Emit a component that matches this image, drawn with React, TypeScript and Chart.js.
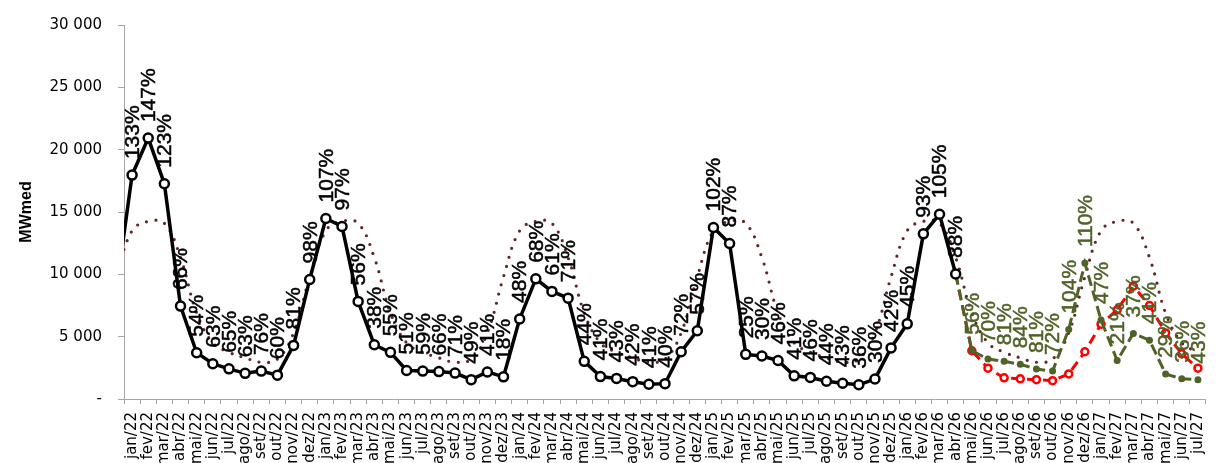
import React, { useEffect, useRef } from 'react';
import { Chart, registerables } from 'chart.js';

Chart.register(...registerables);

// Categories (dez/21 is only used so that the lines run into the left edge, it is outside the visible range)
const categories = [
  'dez/21',
  'jan/22', 'fev/22', 'mar/22', 'abr/22', 'mai/22', 'jun/22', 'jul/22', 'ago/22', 'set/22', 'out/22', 'nov/22', 'dez/22',
  'jan/23', 'fev/23', 'mar/23', 'abr/23', 'mai/23', 'jun/23', 'jul/23', 'ago/23', 'set/23', 'out/23', 'nov/23', 'dez/23',
  'jan/24', 'fev/24', 'mar/24', 'abr/24', 'mai/24', 'jun/24', 'jul/24', 'ago/24', 'set/24', 'out/24', 'nov/24', 'dez/24',
  'jan/25', 'fev/25', 'mar/25', 'abr/25', 'mai/25', 'jun/25', 'jul/25', 'ago/25', 'set/25', 'out/25', 'nov/25', 'dez/25',
  'jan/26', 'fev/26', 'mar/26', 'abr/26', 'mai/26', 'jun/26', 'jul/26', 'ago/26', 'set/26', 'out/26', 'nov/26', 'dez/26',
  'jan/27', 'fev/27', 'mar/27', 'abr/27', 'mai/27', 'jun/27', 'jul/27',
];

// Verified (actual) values, MWmed
const actual = [
  8500,
  17960, 20930, 17270, 7450, 3710, 2830, 2420, 2060, 2240, 1910, 4300, 9590,
  14480, 13840, 7830, 4350, 3740, 2290, 2240, 2200, 2080, 1550, 2170, 1780,
  6420, 9640, 8630, 8090, 3020, 1800, 1650, 1390, 1180, 1230, 3790, 5470,
  13760, 12470, 3580, 3450, 3090, 1860, 1730, 1420, 1260, 1140, 1600, 4100,
  6030, 13250, 14820, 10030, null, null, null, null, null, null, null, null,
  null, null, null, null, null, null, null,
];

// Long-term average (MLT), MWmed
const mlt = [
  9800,
  13500, 14250, 14100, 11350, 6900, 4500, 3750, 3300, 2950, 3200, 5300, 9800,
  13500, 14250, 14100, 11350, 6900, 4500, 3750, 3300, 2950, 3200, 5300, 9800,
  13500, 14250, 14100, 11350, 6900, 4500, 3750, 3300, 2950, 3200, 5300, 9800,
  13500, 14250, 14100, 11350, 6900, 4500, 3750, 3300, 2950, 3200, 5300, 9800,
  13500, 14250, 14100, 11350, 6900, 4500, 3750, 3300, 2950, 3200, 5300, 9800,
  13500, 14250, 14100, 11350, 6900, 4500, 3750,
];

// Green scenario, MWmed
const scenarioGreen = [
  null,
  null, null, null, null, null, null, null, null, null, null, null, null,
  null, null, null, null, null, null, null, null, null, null, null, null,
  null, null, null, null, null, null, null, null, null, null, null, null,
  null, null, null, null, null, null, null, null, null, null, null, null,
  null, null, null, 10030, 3870, 3200, 3020, 2780, 2400, 2240, 5570, 10900,
  6340, 3090, 5260, 4720, 2010, 1620, 1550,
];

// Red scenario, MWmed
const scenarioRed = [
  null,
  null, null, null, null, null, null, null, null, null, null, null, null,
  null, null, null, null, null, null, null, null, null, null, null, null,
  null, null, null, null, null, null, null, null, null, null, null, null,
  null, null, null, null, null, null, null, null, null, null, null, null,
  null, null, null, 10030, 3870, 2470, 1700, 1620, 1550, 1470, 2010, 3790,
  6000, 7150, 9050, 7500, 5300, 3630, 2470,
];

// Percent-of-MLT labels
const actualPctStart = 'jan/22';
const actualPct = [
  '133%', '147%', '123%', '66%', '54%', '63%', '65%', '63%', '76%', '60%', '81%', '98%',
  '107%', '97%', '56%', '38%', '55%', '51%', '59%', '66%', '71%', '49%', '41%', '18%',
  '48%', '68%', '61%', '71%', '44%', '41%', '43%', '42%', '41%', '40%', '72%', '57%',
  '102%', '87%', '25%', '30%', '46%', '41%', '46%', '44%', '43%', '36%', '30%', '42%',
  '45%', '93%', '105%', '88%',
];
const greenPctStart = 'mai/26';
const greenPct = [
  '56%', '70%', '81%', '84%', '81%', '72%', '104%', '110%',
  '47%', '21%', '37%', '41%', '29%', '36%', '43%',
];

const yTicks = [0, 5000, 10000, 15000, 20000, 25000, 30000];

const GREEN = '#4F6228';
const RED = '#FF0000';
const MLT_COLOR = '#632523';
const AXIS = '#A6A6A6';

const scenarioStart = categories.indexOf('abr/26');

const pctLabelPlugin = {
  id: 'pctLabels',
  afterDatasetsDraw(chart: any) {
    const ctx = chart.ctx;
    const sets = [
      { ds: 0, labels: actualPct, start: categories.indexOf(actualPctStart), color: '#000000' },
      { ds: 1, labels: greenPct, start: categories.indexOf(greenPctStart), color: GREEN },
    ];
    ctx.save();
    ctx.font = '21px "Liberation Sans", Arial, sans-serif';
    ctx.textAlign = 'left';
    ctx.textBaseline = 'middle';
    for (const s of sets) {
      const meta = chart.getDatasetMeta(s.ds);
      s.labels.forEach((t: string, k: number) => {
        const el = meta.data[s.start + k];
        if (!el) return;
        ctx.save();
        ctx.translate(el.x + 1, el.y - 16);
        ctx.rotate(-Math.PI / 2);
        ctx.fillStyle = s.color;
        ctx.strokeStyle = s.color;
        ctx.lineWidth = 0.5;
        ctx.fillText(t, 0, 0);
        ctx.strokeText(t, 0, 0);
        ctx.restore();
      });
    }
    ctx.restore();
  },
};

function fmt(v: number): string {
  if (v === 0) return '-';
  return String(v).replace(/\B(?=(\d{3})+(?!\d))/g, ' ');
}

export default function App() {
  const ref = useRef<HTMLCanvasElement | null>(null);

  useEffect(() => {
    document.body.style.margin = '0';
    const canvas = ref.current;
    if (!canvas) return;
    const chart = new Chart(canvas, {
      type: 'line',
      data: {
        labels: categories,
        datasets: [
          {
            label: 'Verificado',
            data: actual,
            borderColor: '#000000',
            borderWidth: 3.5,
            pointRadius: 4.5,
            pointBorderWidth: 2.5,
            pointBackgroundColor: '#FFFFFF',
            pointBorderColor: '#000000',
            tension: 0,
            spanGaps: false,
          },
          {
            label: 'Cenário verde',
            data: scenarioGreen,
            borderColor: GREEN,
            borderWidth: 3,
            borderDash: [11, 5],
            pointRadius: (c: any) => (c.dataIndex <= scenarioStart ? 0 : 3.5),
            pointBackgroundColor: GREEN,
            pointBorderColor: GREEN,
            pointBorderWidth: 0,
            tension: 0,
          },
          {
            label: 'Cenário vermelho',
            data: scenarioRed,
            borderColor: RED,
            borderWidth: 3,
            borderDash: [10, 6],
            pointRadius: (c: any) => (c.dataIndex <= scenarioStart ? 0 : 3.5),
            pointBackgroundColor: '#FFFFFF',
            pointBorderColor: RED,
            pointBorderWidth: 2.5,
            tension: 0,
          },
          {
            label: 'MLT',
            data: mlt,
            borderColor: MLT_COLOR,
            borderWidth: 3.2,
            borderDash: [0, 9.5],
            borderCapStyle: 'round',
            pointRadius: 0,
            tension: 0.4,
          },
        ] as any,
      },
      options: {
        responsive: false,
        animation: false,
        devicePixelRatio: 1,
        layout: { padding: { top: 11, right: 11, left: 0, bottom: 0 } },
        plugins: {
          legend: { display: false },
          tooltip: { enabled: false },
        },
        scales: {
          x: {
            type: 'category',
            min: 'jan/22',
            max: 'jul/27',
            offset: true,
            grid: {
              offset: true,
              drawOnChartArea: false,
              drawTicks: true,
              tickLength: 5,
              color: AXIS,
            },
            border: { color: AXIS, width: 1 },
            ticks: {
              autoSkip: false,
              maxRotation: 90,
              minRotation: 90,
              padding: 8,
              color: '#000000',
              font: { family: '"DejaVu Sans"', size: 15 },
            },
            afterFit: (s: any) => {
              s.height = 64;
            },
          },
          y: {
            min: 0,
            max: 30000,
            afterBuildTicks: (s: any) => {
              s.ticks = yTicks.map((v) => ({ value: v }));
            },
            ticks: {
              callback: (v: any) => fmt(Number(v)),
              padding: 16,
              color: '#000000',
              font: { family: '"DejaVu Sans"', size: 15 },
            },
            grid: {
              drawOnChartArea: false,
              drawTicks: true,
              tickLength: 6,
              color: AXIS,
            },
            border: { color: AXIS, width: 1 },
            title: {
              display: true,
              text: 'MWmed',
              color: '#000000',
              font: { family: '"Liberation Sans"', size: 16, weight: 'bold' },
              padding: { top: 17, bottom: 0 },
            },
            afterFit: (s: any) => {
              s.width = 124;
            },
          },
        },
      } as any,
      plugins: [pctLabelPlugin],
    });
    return () => chart.destroy();
  }, []);

  return (
    <div style={{ position: 'fixed', left: 0, top: 0, width: 1224, height: 463, background: '#fff' }}>
      <canvas ref={ref} width={1224} height={463} />
    </div>
  );
}
